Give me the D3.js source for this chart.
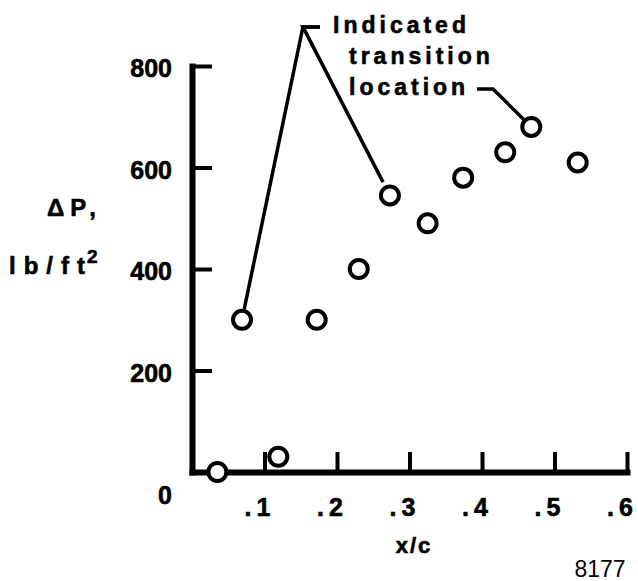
<!DOCTYPE html>
<html>
<head>
<meta charset="utf-8">
<script src="https://cdn.jsdelivr.net/npm/d3@7"></script>
<style>
  html, body { margin: 0; padding: 0; background: #fff; }
  svg { display: block; }
  text { font-family: "Liberation Sans", Arial, Helvetica, sans-serif; fill: #000; }
  text.heavy { stroke: #000; stroke-width: 0.6px; }
</style>
</head>
<body>
<svg width="638" height="581"></svg>
<script>
// x/c positions of the measured points
var xcValues = [0.035, 0.119, 0.069, 0.172, 0.230, 0.273, 0.325, 0.374, 0.432, 0.468, 0.532];
// pressure difference, lb/ft^2
var dpValues = [0, 30, 300, 300, 400, 545, 490, 580, 630, 680, 610];

var xTicks = [0.1, 0.2, 0.3, 0.4, 0.5, 0.6];
var xTickLabels = [".1", ".2", ".3", ".4", ".5", ".6"];
var yTicks = [0, 200, 400, 600, 800];

// annotation text and which points it points at
var noteLines = ["Indicated", "transition", "location"];
var notePoints = [2, 5];
var locationPoint = 9;

var svg = d3.select("svg");

var x = d3.scaleLinear().domain([0, 0.6]).range([192, 627]);
var y = d3.scaleLinear().domain([0, 800]).range([472, 66]);

// x axis, ticks pointing up
var gx = svg.append("g")
    .attr("transform", "translate(0," + y(0) + ")")
    .call(d3.axisBottom(x)
      .tickValues(xTicks)
      .tickFormat(function(d, i) { return xTickLabels[i]; })
      .tickSizeInner(-20)
      .tickSizeOuter(0)
      .tickPadding(26));

// y axis, ticks pointing right
var gy = svg.append("g")
    .attr("transform", "translate(" + x(0) + ",0)")
    .call(d3.axisLeft(y)
      .tickValues(yTicks)
      .tickSizeInner(-20)
      .tickSizeOuter(0)
      .tickPadding(20));

[gx, gy].forEach(function(g) {
  g.select(".domain")
    .attr("stroke", "#000")
    .attr("stroke-width", 6)
    .attr("stroke-linecap", "square");
  g.selectAll(".tick line")
    .attr("stroke", "#000")
    .attr("stroke-width", 4);
  g.selectAll(".tick text")
    .attr("class", "heavy")
    .attr("fill", "#000")
    .style("font-weight", "bold")
    .style("font-size", "25px");
});

gx.selectAll(".tick text")
    .attr("dx", -5)
    .style("letter-spacing", "5px");
gy.selectAll(".tick text").attr("dy", "0.42em");
// the zero sits under the axis
gy.selectAll(".tick")
  .filter(function(d) { return d === 0; })
  .select("text")
    .attr("dy", "1.25em");
gy.selectAll(".tick")
  .filter(function(d) { return d === 0; })
  .select("line").remove();

// axis titles
svg.append("text")
    .attr("class", "heavy")
    .attr("x", 47)
    .attr("y", 216)
    .style("font-weight", "bold")
    .style("font-size", "24px")
    .style("letter-spacing", "6px")
    .text("\u0394P,");

var unit = svg.append("text")
    .attr("class", "heavy")
    .attr("x", 9)
    .attr("y", 274)
    .style("font-weight", "bold")
    .style("font-size", "24px");
unit.append("tspan").style("letter-spacing", "8px").text("lb/f");
unit.append("tspan").text("t");
unit.append("tspan")
    .attr("dx", 2)
    .attr("dy", -11)
    .style("font-size", "19px")
    .text("2");

svg.append("text")
    .attr("class", "heavy")
    .attr("x", 414)
    .attr("y", 553)
    .attr("text-anchor", "middle")
    .style("font-weight", "bold")
    .style("font-size", "22px")
    .style("letter-spacing", "2px")
    .text("x/c");

svg.append("text")
    .attr("x", 600)
    .attr("y", 577)
    .attr("text-anchor", "middle")
    .style("font-size", "23px")
    .text("8177");

// annotation text
svg.selectAll(".note")
  .data(noteLines)
  .enter().append("text")
    .attr("class", "note heavy")
    .attr("x", function(d, i) { return i === 0 ? 333 : 349; })
    .attr("y", function(d, i) { return 33 + i * 31; })
    .style("font-weight", "bold")
    .style("font-size", "23px")
    .style("letter-spacing", "4px")
    .text(function(d) { return d; });

// leader lines, stopped a little short of the circles
function shortEnd(p0, p1, gap) {
  var dx = p1[0] - p0[0], dy = p1[1] - p0[1];
  var len = Math.sqrt(dx * dx + dy * dy);
  return [p1[0] - dx / len * gap, p1[1] - dy / len * gap];
}

var apex = [x(0.153), y(877)];
var leaders = svg.append("g")
    .attr("fill", "none")
    .attr("stroke", "#000")
    .attr("stroke-width", 3.5)
    .attr("stroke-linejoin", "miter");

var gaps = [11, 15];
notePoints.forEach(function(idx, k) {
  var c = [x(xcValues[idx]), y(dpValues[idx])];
  var e = shortEnd(apex, c, gaps[k]);
  leaders.append("path")
    .attr("d", "M" + (apex[0] + 17) + "," + apex[1] + "H" + apex[0] + "L" + e[0] + "," + e[1]);
});

var locStart = [477, 89], locBend = [493, 89];
var locC = [x(xcValues[locationPoint]), y(dpValues[locationPoint])];
var locEnd = shortEnd(locBend, locC, 11);
leaders.append("path")
    .attr("d", "M" + locStart + "L" + locBend + "L" + locEnd);

// data points
svg.selectAll(".pt")
  .data(xcValues)
  .enter().append("circle")
    .attr("class", "pt")
    .attr("cx", function(d) { return x(d); })
    .attr("cy", function(d, i) { return y(dpValues[i]); })
    .attr("r", 9)
    .attr("fill", "#fff")
    .attr("stroke", "#000")
    .attr("stroke-width", 4);
</script>
</body>
</html>
